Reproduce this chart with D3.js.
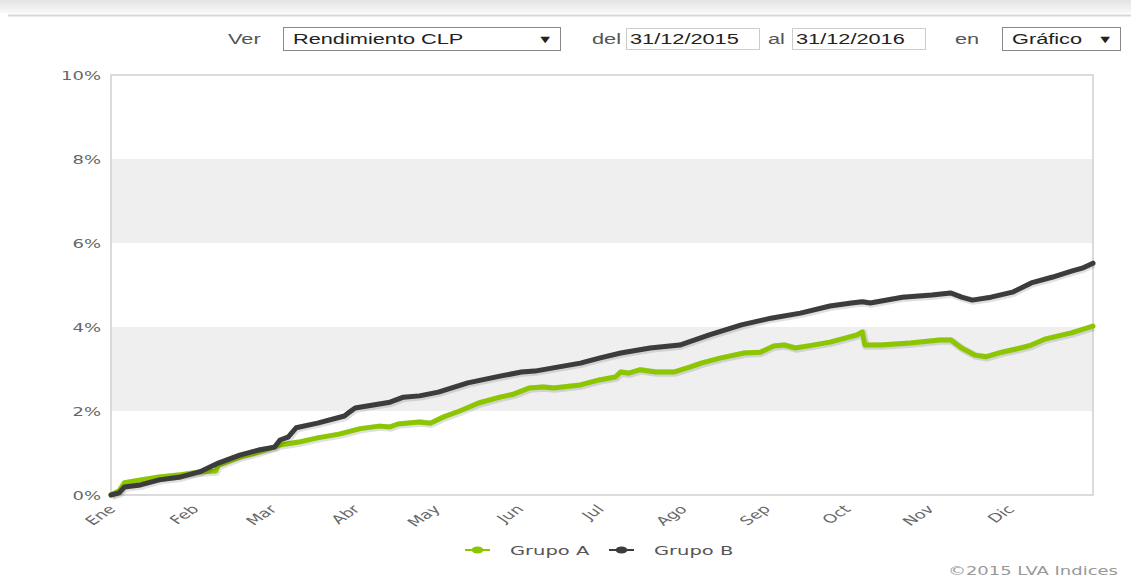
<!DOCTYPE html>
<html>
<head>
<meta charset="utf-8">
<script src="https://cdn.jsdelivr.net/npm/d3@7"></script>
<style>
  body { margin: 0; background: #fff; }
  svg { display: block; }
  text { font-family: "DejaVu Sans", Verdana, sans-serif; }
  .hdr text { font-family: "Liberation Sans", Arial, sans-serif; }
</style>
</head>
<body>
<svg id="chart"></svg>
<script>
// valores (rendimiento acumulado en %)
var fechasA = ["2015-12-31","2016-01-03","2016-01-05","2016-01-11","2016-01-18","2016-01-26","2016-02-02","2016-02-08","2016-02-09","2016-02-17","2016-02-24","2016-03-03","2016-03-10","2016-03-17","2016-03-25","2016-04-02","2016-04-09","2016-04-13","2016-04-16","2016-04-24","2016-04-28","2016-05-03","2016-05-09","2016-05-16","2016-05-24","2016-05-29","2016-06-04","2016-06-09","2016-06-13","2016-06-23","2016-06-30","2016-07-06","2016-07-08","2016-07-11","2016-07-15","2016-07-21","2016-07-28","2016-08-03","2016-08-07","2016-08-14","2016-08-23","2016-08-29","2016-09-03","2016-09-07","2016-09-11","2016-09-16","2016-09-24","2016-09-30","2016-10-04","2016-10-06","2016-10-07","2016-10-13","2016-10-24","2016-11-04","2016-11-08","2016-11-12","2016-11-17","2016-11-21","2016-11-27","2016-12-04","2016-12-08","2016-12-13","2016-12-23","2016-12-31"];
var grupoA = [0,0.10,0.29,0.36,0.43,0.48,0.55,0.57,0.71,0.90,1.02,1.19,1.26,1.36,1.45,1.58,1.64,1.62,1.69,1.74,1.71,1.86,2.00,2.19,2.33,2.40,2.55,2.57,2.55,2.62,2.74,2.81,2.93,2.90,2.98,2.93,2.93,3.05,3.14,3.26,3.38,3.40,3.55,3.57,3.50,3.55,3.64,3.74,3.81,3.88,3.57,3.57,3.62,3.69,3.69,3.50,3.33,3.29,3.40,3.50,3.57,3.71,3.86,4.02];

var fechasB = ["2015-12-31","2016-01-03","2016-01-05","2016-01-11","2016-01-18","2016-01-26","2016-02-02","2016-02-09","2016-02-17","2016-02-24","2016-03-01","2016-03-03","2016-03-06","2016-03-09","2016-03-17","2016-03-27","2016-03-29","2016-03-31","2016-04-13","2016-04-18","2016-04-24","2016-05-01","2016-05-12","2016-05-24","2016-06-01","2016-06-06","2016-06-15","2016-06-23","2016-06-30","2016-07-08","2016-07-19","2016-07-30","2016-08-10","2016-08-22","2016-09-02","2016-09-13","2016-09-24","2016-10-02","2016-10-06","2016-10-09","2016-10-21","2016-11-01","2016-11-08","2016-11-12","2016-11-16","2016-11-23","2016-12-01","2016-12-08","2016-12-16","2016-12-23","2016-12-27","2016-12-31"];
var grupoB = [0,0.05,0.19,0.24,0.36,0.43,0.55,0.76,0.95,1.07,1.14,1.31,1.38,1.60,1.71,1.88,1.98,2.07,2.21,2.33,2.36,2.45,2.67,2.83,2.93,2.95,3.05,3.14,3.26,3.38,3.50,3.57,3.81,4.05,4.21,4.33,4.50,4.57,4.60,4.57,4.71,4.76,4.81,4.71,4.64,4.71,4.83,5.05,5.19,5.33,5.40,5.52];

var series = ["Grupo A", "Grupo B"];
var meses = ["Ene","Feb","Mar","Abr","May","Jun","Jul","Ago","Sep","Oct","Nov","Dic"];
var yTicks = [0, 2, 4, 6, 8, 10];
var rango = ["2015-12-31", "2016-12-31"];

var W = 1131, H = 585;
var margin = {top: 75, right: 38, bottom: 90, left: 111};
var width = W - margin.left - margin.right,
    height = H - margin.top - margin.bottom;
var S = 1.5; // el pantallazo original esta estirado en horizontal
var colores = ["#8cc600", "#3c3c3c"];

var parse = d3.timeParse("%Y-%m-%d");

var svg = d3.select('#chart')
    .attr('width', W)
    .attr('height', H);

// barra superior
var grad = svg.append("defs").append("linearGradient")
    .attr("id", "topgrad").attr("x1", 0).attr("x2", 0).attr("y1", 0).attr("y2", 1);
grad.append("stop").attr("offset", "0%").attr("stop-color", "#e4e4e4");
grad.append("stop").attr("offset", "100%").attr("stop-color", "#f8f8f8");
svg.append("rect").attr("x", 0).attr("y", 0).attr("width", W).attr("height", 13).attr("fill", "url(#topgrad)");
svg.append("line").attr("x1", 8).attr("x2", W).attr("y1", 15.5).attr("y2", 15.5)
    .attr("stroke", "#d8d8d8").attr("stroke-width", 2);

// controles de la cabecera
var hdr = svg.append("g").attr("class", "hdr");
function htext(x, y, t, color, size) {
    hdr.append("text")
        .attr("transform", "translate(" + x + "," + y + ") scale(1.5,1)")
        .attr("fill", color || "#333")
        .style("font-size", (size || 14.5) + "px")
        .text(t);
}
hdr.append("rect").attr("x", 283.5).attr("y", 27.5).attr("width", 277).attr("height", 23)
    .attr("fill", "#fff").attr("stroke", "#888");
hdr.append("rect").attr("x", 626.5).attr("y", 28.5).attr("width", 133).attr("height", 21)
    .attr("fill", "#fff").attr("stroke", "#ccc");
hdr.append("rect").attr("x", 792.5).attr("y", 28.5).attr("width", 133).attr("height", 21)
    .attr("fill", "#fff").attr("stroke", "#ccc");
hdr.append("rect").attr("x", 1002.5).attr("y", 27.5).attr("width", 118).attr("height", 23)
    .attr("fill", "#fff").attr("stroke", "#888");
htext(228, 44, "Ver", "#555");
htext(293, 44, "Rendimiento CLP", "#222");
htext(537, 43, "\u25BC", "#222", 11);
htext(592, 44, "del", "#555");
htext(630, 44, "31/12/2015", "#222");
htext(768, 44, "al", "#555");
htext(796, 44, "31/12/2016", "#222");
htext(955, 44, "en", "#555");
htext(1012, 44, "Gr\u00e1fico", "#222");
htext(1097, 43, "\u25BC", "#222", 11);

var chart = svg.append("g")
    .attr("transform", "translate(" + margin.left + "," + margin.top + ")");

var x = d3.scaleTime()
    .domain(rango.map(parse))
    .range([0, width]);
var y = d3.scaleLinear()
    .domain([0, 10])
    .range([height, 0]);

// bandas alternas
chart.selectAll("rect.band")
    .data([[2, 4], [6, 8]])
    .enter()
    .append("rect")
        .attr("class", "band")
        .attr("x", 0)
        .attr("width", width)
        .attr("y", d => y(d[1]))
        .attr("height", d => y(d[0]) - y(d[1]))
        .attr("fill", "#efefef");

chart.append("rect")
    .attr("x", 0).attr("y", 0)
    .attr("width", width).attr("height", height)
    .attr("fill", "none")
    .attr("stroke", "#cfcfcf")
    .attr("stroke-width", 1.5);

// eje y
var yAxis = chart.append("g")
    .call(d3.axisLeft(y).tickValues(yTicks).tickSize(0).tickFormat(d => d + "%"));
yAxis.select(".domain").remove();
yAxis.selectAll("text")
    .attr("x", 0)
    .attr("dy", "0.35em")
    .attr("transform", "translate(-10,0) scale(" + S + ",1)")
    .attr("fill", "#666")
    .style("font-family", "DejaVu Sans")
    .style("font-size", "12px");

// eje x
var mesTicks = meses.map((m, i) => new Date(2016, i, 1));
var xAxis = chart.append("g")
    .attr("transform", "translate(0," + height + ")")
    .call(d3.axisBottom(x).tickValues(mesTicks).tickSize(0).tickFormat((d, i) => meses[i]));
xAxis.select(".domain").remove();
xAxis.selectAll("text")
    .attr("x", 0).attr("y", 0)
    .attr("dy", "0.35em")
    .attr("text-anchor", "end")
    .attr("transform", "translate(-2,12) scale(" + S + ",1) rotate(-45)")
    .attr("fill", "#666")
    .style("font-family", "DejaVu Sans")
    .style("font-size", "12px");

// lineas
var line = d3.line()
    .x(d => x(d.fecha))
    .y(d => y(d.valor));

var datos = [
    fechasA.map((f, i) => ({fecha: parse(f), valor: grupoA[i]})),
    fechasB.map((f, i) => ({fecha: parse(f), valor: grupoB[i]}))
];

datos.forEach(function(d, i) {
    chart.append("path")
        .datum(d)
        .attr("fill", "none")
        .attr("stroke", "rgba(0,0,0,0.12)")
        .attr("stroke-width", 7.5)
        .attr("stroke-linejoin", "round")
        .attr("transform", "translate(1,1)")
        .attr("d", line);
    chart.append("path")
        .datum(d)
        .attr("fill", "none")
        .attr("stroke", colores[i])
        .attr("stroke-width", 5)
        .attr("stroke-linejoin", "round")
        .attr("stroke-linecap", "round")
        .attr("d", line);
});

// leyenda
var legend = svg.append("g")
    .attr("transform", "translate(465,550)");
var item = legend.selectAll("g")
    .data(series)
    .enter()
    .append("g")
        .attr("transform", (d, i) => "translate(" + (i * 144) + ",0)");
item.append("line")
    .attr("x1", 0).attr("x2", 25)
    .attr("stroke", (d, i) => colores[i])
    .attr("stroke-width", 2);
item.append("ellipse")
    .attr("cx", 12.5).attr("rx", 6).attr("ry", 3.5)
    .attr("fill", (d, i) => colores[i]);
item.append("text")
    .attr("transform", "translate(45,5) scale(" + S + ",1)")
    .attr("fill", "#555")
    .style("font-size", "13px")
    .text(d => d);

svg.append("text")
    .attr("transform", "translate(1118,575) scale(" + S + ",1)")
    .attr("text-anchor", "end")
    .attr("fill", "#999")
    .style("font-size", "12px")
    .text("\u00a92015 LVA Indices");
</script>
</body>
</html>
